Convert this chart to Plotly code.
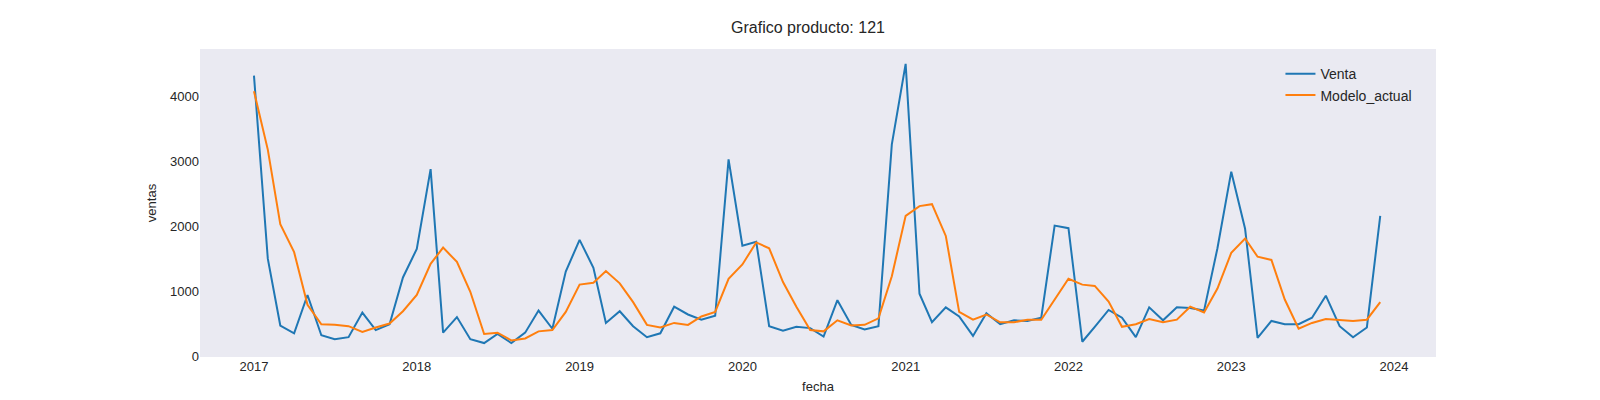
import pandas as pd
import plotly.graph_objects as go

fechas = pd.date_range("2017-01-01", periods=84, freq="MS")

venta = [
    4320, 1500, 470, 350, 940, 320, 260, 290, 670, 400, 490, 1210,
    1650, 2880, 360, 600, 260, 200, 340, 200, 360, 700, 420, 1300,
    1790, 1360, 510, 690, 460, 290, 350, 760, 640, 560, 620, 3030,
    1700, 1760, 460, 390, 450, 430, 300, 860, 480, 410, 460, 3260,
    4500, 960, 520, 750, 610, 310, 660, 490, 550, 540, 590, 2010,
    1970, 220, 450, 710, 590, 290, 750, 550, 750, 740, 700, 1660,
    2840, 1960, 280, 540, 490, 490, 590, 930, 460, 290, 440, 2160,
]

modelo_actual = [
    4080, 3180, 2030, 1600, 790, 490, 480, 460, 370, 440, 500, 690,
    940, 1420, 1670, 1450, 990, 340, 360, 240, 270, 380, 400, 680,
    1100, 1130, 1310, 1120, 830, 480, 440, 510, 480, 610, 680, 1190,
    1410, 1750, 1660, 1140, 760, 400, 380, 550, 470, 480, 580, 1230,
    2160, 2310, 2340, 1850, 680, 560, 640, 520, 520, 560, 560, 870,
    1190, 1100, 1080, 840, 450, 490, 570, 520, 560, 760, 670, 1040,
    1590, 1810, 1530, 1480, 870, 420, 510, 570, 560, 540, 560, 830,
]

fig = go.Figure()
fig.add_trace(go.Scatter(x=fechas, y=venta, mode="lines", name="Venta",
                         line=dict(color="#1f77b4", width=2)))
fig.add_trace(go.Scatter(x=fechas, y=modelo_actual, mode="lines", name="Modelo_actual",
                         line=dict(color="#ff7f0e", width=2)))

fig.update_layout(
    width=1600, height=400,
    margin=dict(l=192, r=172, t=41, b=51),
    paper_bgcolor="white",
    plot_bgcolor="#EAEAF2",
    font=dict(family="Liberation Sans, Arial", size=13, color="#262626"),
    title=dict(text="Grafico producto: 121", x=0.5, xanchor="center", y=0.965,
               font=dict(size=16)),
    xaxis=dict(title=dict(text="fecha", standoff=8, font=dict(size=13)),
               range=["2016-09-02", "2024-04-04"],
               showgrid=False, zeroline=False, tickformat="%Y", dtick="M12",
               tick0="2017-01-01"),
    yaxis=dict(title=dict(text="ventas", standoff=10, font=dict(size=13)),
               range=[-15, 4730],
               showgrid=False, zeroline=False, tickvals=[0, 1000, 2000, 3000, 4000]),
    legend=dict(x=0.985, y=0.97, xanchor="right", yanchor="top",
                bgcolor="rgba(0,0,0,0)", font=dict(size=14)),
)

fig.write_html("out.html")
